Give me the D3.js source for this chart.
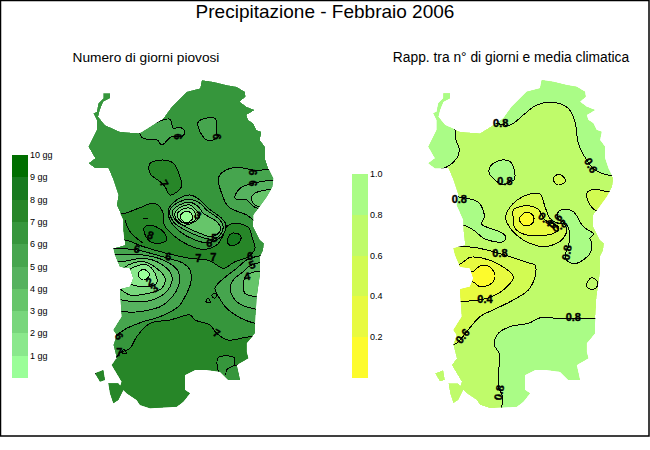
<!DOCTYPE html>
<html lang="en">
<head>
<meta charset="UTF-8">
<title>Precipitazione - Febbraio 2006</title>
<script src="https://d3js.org/d3.v7.min.js"></script>
<style>
    body { margin: 0; background: #fff; font-family: "Liberation Sans", Arial, sans-serif; }
    svg { display: block; }
    .fill, .band, .line { shape-rendering: crispEdges; }
    .line { fill: none; stroke: #000; stroke-width: 1; }
    .lab { font-weight: bold; font-size: 11px; text-anchor: middle; dominant-baseline: middle; stroke: #000; stroke-width: 0.4; }
</style>
</head>
<body>
<script>
// legends
const dayTicks = [1, 2, 3, 4, 5, 6, 7, 8, 9, 10];
const dayColors = ["#9afe98", "#8ae88c", "#78d67c", "#66c56a", "#56b25f", "#46a54e", "#36963c", "#278628", "#177a1f", "#006e00"];
const ratioTicks = [0.2, 0.4, 0.6, 0.8, 1.0];
const ratioColors = ["#fdfb2c", "#e8fa40", "#d2fb52", "#bffb6a", "#aafc86"];

// island outline, in map units
const coast = [[365,0],[400,5],[440,15],[470,20],[495,35],[497,50],[480,65],[500,80],[525,90],[500,105],[505,120],[520,130],[530,150],[545,155],[540,180],[555,200],[555,235],[565,265],[580,295],[577,320],[560,350],[535,385],[520,405],[520,440],[540,480],[552,490],[550,510],[540,530],[540,580],[530,650],[525,730],[525,760],[500,790],[500,815],[505,835],[470,855],[480,900],[445,900],[420,875],[380,870],[345,870],[315,885],[315,930],[330,940],[310,965],[290,980],[210,985],[180,975],[170,960],[140,940],[120,920],[125,905],[95,855],[110,835],[100,795],[110,765],[100,750],[125,710],[120,628],[150,620],[160,595],[150,565],[120,560],[105,525],[100,505],[135,495],[130,450],[130,420],[110,375],[115,345],[100,300],[85,265],[45,265],[25,250],[45,235],[25,200],[50,150],[50,120],[40,100],[50,95],[55,70],[70,55],[70,40],[90,40],[90,55],[70,65],[60,90],[55,110],[75,135],[120,155],[180,160],[235,125],[250,115],[275,80],[320,35],[360,25]];
const isleNorth = [[45,880],[70,870],[75,900],[60,905]];
const isleSouth = [[85,910],[115,910],[130,930],[115,960],[100,970],[90,940]];

// left map: [band, closed contour]
const dayContours = [
    [5, [[180,158],[235,125],[270,118],[280,145],[300,142],[315,155],[305,170],[275,170],[245,195],[232,180],[190,175]]],
    [5, [[355,125],[405,115],[410,160],[415,170],[385,182],[360,155]]],
    [7, [[210,250],[250,240],[280,250],[300,290],[305,320],[270,345],[255,320],[240,305],[210,280]]],
    [5, [[640,280],[520,270],[470,262],[430,275],[415,295],[425,340],[445,380],[500,405],[530,425],[640,425]]],
    [4, [[640,308],[510,312],[475,330],[465,355],[500,360],[525,382],[640,390]]],
    [3, [[640,335],[535,335],[515,350],[520,370],[545,382],[640,375]]],
    [7, [[60,415],[135,400],[175,385],[225,370],[250,400],[253,435],[285,470],[325,495],[370,508],[410,495],[430,465],[440,440],[465,430],[505,442],[517,475],[525,505],[505,530],[465,545],[430,565],[410,555],[395,545],[382,540],[330,535],[260,520],[190,500],[135,480],[60,480]]],
    [8, [[192,445],[210,435],[250,455],[260,480],[235,490],[205,480]]],
    [8, [[442,480],[455,460],[480,465],[482,480],[465,495],[448,495]]],
    [5, [[265,390],[290,360],[330,345],[360,360],[385,385],[425,415],[438,435],[432,460],[410,480],[382,488],[345,480],[300,455],[270,420]]],
    [4, [[270,390],[295,367],[330,358],[360,370],[380,390],[420,420],[430,440],[420,465],[400,478],[360,470],[315,450],[280,425]]],
    [3, [[277,395],[298,375],[330,367],[355,380],[370,400],[410,425],[422,445],[415,460],[395,470],[360,460],[320,442],[290,425]]],
    [2, [[285,398],[305,380],[330,375],[348,390],[360,408],[335,430],[310,435],[290,420]]],
    [1, [[292,402],[310,387],[332,385],[345,398],[345,420],[315,430],[298,420]]],
    [0, [[300,408],[315,395],[332,398],[338,415],[320,428],[305,420]]],
    [5, [[50,505],[105,505],[170,510],[230,525],[265,535],[310,550],[330,570],[332,610],[320,640],[295,680],[240,710],[190,725],[140,745],[108,765],[50,780]]],
    [4, [[100,525],[190,525],[260,545],[295,575],[295,620],[250,675],[180,695],[125,695],[80,690],[80,525]]],
    [3, [[125,545],[190,535],[240,550],[275,585],[270,620],[240,650],[190,665],[125,660],[90,650],[90,545]]],
    [2, [[145,555],[190,545],[230,565],[255,595],[245,625],[205,640],[150,645],[125,630],[100,600]]],
    [1, [[155,565],[200,555],[225,580],[230,610],[200,620],[160,615],[130,590]]],
    [0, [[175,580],[190,568],[207,580],[205,592],[190,600],[178,592]]],
    [5, [[640,535],[510,535],[470,565],[420,605],[405,625],[425,665],[445,690],[525,730],[640,730]]],
    [4, [[640,550],[515,555],[490,575],[460,600],[450,625],[470,665],[530,688],[640,688]]],
    [3, [[640,580],[500,585],[490,615],[495,640],[530,650],[640,650]]],
    [7, [[60,850],[95,850],[120,818],[150,805],[170,770],[210,730],[270,720],[330,705],[345,720],[390,735],[410,760],[445,780],[510,770],[640,770],[640,1040],[60,1040]]],
    [6, [[415,833],[463,833],[465,855],[500,850],[520,920],[440,920],[415,875]]]
];
const dayLines = [
    [[465,855],[440,870],[438,885]],
    [[377,667],[384,655],[391,667],[377,667]],
    [[395,647],[403,640],[411,647],[403,655],[395,647]],
    [[125,820],[132,808],[139,820],[125,820]],
    [[135,420],[150,455],[190,490]],
    [[188,415],[205,415]]
];
const dayLabels = [
    ["6",290,170,90],["6",407,170,90],["6",515,277,90],["6",515,310,90],["7",250,312,60],["3",352,408,30],
    ["8",210,468,20],["5",403,478,0],["6",388,492,0],["6",170,510,10],["6",265,532,10],["7",355,538,0],["7",400,535,0],
    ["6",510,532,0],["5",517,557,-20],["4",502,592,-10],["2",210,608,-30],["3",225,627,-40],["6",115,770,60],["7",118,818,0],["7",408,762,30]
];

// right map: [band, closed contour]
const ratioContours = [
    [4, [[225,130],[270,135],[310,105],[350,75],[405,68],[445,85],[465,125],[475,190],[500,240],[525,270],[575,287],[680,287],[680,-50],[120,-50],[120,130]]],
    [4, [[105,150],[108,180],[118,210],[110,235],[70,265],[0,265],[0,0],[105,0]]],
    [4, [[210,260],[240,241],[270,245],[283,270],[282,300],[270,305],[250,315],[225,300],[208,280]]],
    [4, [[0,358],[155,358],[180,372],[193,410],[185,432],[210,445],[245,458],[257,470],[250,485],[195,477],[160,450],[130,435],[0,435]]],
    [2, [[400,295],[415,283],[430,290],[435,305],[415,315],[402,305]]],
    [2, [[500,340],[520,328],[565,335],[620,335],[620,390],[525,390],[505,365]]],
    [2, [[258,405],[280,370],[330,342],[360,342],[375,380],[390,415],[415,430],[430,430],[440,450],[430,475],[410,490],[370,500],[310,480],[275,450],[258,420]]],
    [1, [[280,390],[300,380],[330,378],[355,388],[375,420],[415,440],[415,450],[395,462],[320,465],[285,445],[280,415]]],
    [0, [[298,418],[315,398],[335,402],[342,420],[330,435],[310,435]]],
    [4, [[415,395],[430,388],[460,395],[490,440],[520,462],[510,475],[515,490],[510,520],[470,550],[445,545],[435,525],[445,500],[447,450],[437,430],[415,418]]],
    [2, [[120,500],[160,502],[220,515],[330,550],[345,555],[345,590],[325,630],[280,660],[230,685],[180,710],[140,755],[105,792],[0,792],[0,500]]],
    [1, [[115,555],[150,532],[190,535],[240,555],[280,590],[250,630],[200,655],[120,665],[0,665],[0,555]]],
    [0, [[158,575],[180,558],[205,558],[225,585],[215,610],[180,620],[158,605],[100,600],[100,575]]],
    [4, [[525,715],[470,715],[410,715],[365,712],[325,730],[270,740],[235,760],[223,795],[237,820],[235,890],[235,920],[248,950],[248,1040],[700,1040],[700,715]]]
];
const ratioLines = [
    [[500,610],[515,593],[532,605],[530,622],[515,628],[500,620],[500,610]]
];
const ratioLabels = [
    ["0.8",242,132,0],["0.6",510,258,60],["0.8",255,305,0],["0.8",118,360,0],["0.8",240,522,0],["0.8",443,518,-80],
    ["0.6",130,770,-50],["0.4",195,660,0],["0.8",460,715,0],["0.8",240,938,-80],["0.4",375,420,40],["0.6",408,425,-50],["0.8",420,440,-30]
];

const svg = d3.select("body").append("svg").attr("width", 650).attr("height", 450);

svg.append("rect").attr("x", 0.5).attr("y", 0.5).attr("width", 648.5).attr("height", 435.5)
    .attr("fill", "#fff").attr("stroke", "#000").attr("stroke-width", 1.5);

svg.append("text").attr("x", 325).attr("y", 18).attr("text-anchor", "middle")
    .attr("font-size", 19).text("Precipitazione - Febbraio 2006");

svg.append("text").attr("x", 146).attr("y", 62).attr("text-anchor", "middle")
    .attr("font-size", 13.7).text("Numero di giorni piovosi");
svg.append("text").attr("x", 511).attr("y", 62).attr("text-anchor", "middle")
    .attr("font-size", 13.8).text("Rapp. tra n° di giorni e media climatica");

const y = d3.scaleLinear().domain([0, 1000]).range([80, 80 + 1000 / 3]);
const closed = d3.line().curve(d3.curveLinearClosed);

function drawMap(id, x0, baseColor, colors, contours, lines, labels) {
    const x = d3.scaleLinear().domain([0, 1000]).range([x0, x0 + 1000 / 3]);
    const toPx = p => p.map(d => [x(d[0]), y(d[1])]);
    const smooth = d3.line().curve(d3.curveCatmullRomClosed.alpha(0.5));
    const open = d3.line().curve(d3.curveCatmullRom.alpha(0.5));
    const land = [coast, isleNorth, isleSouth].map(p => closed(toPx(p))).join("");

    svg.append("clipPath").attr("id", id).append("path").attr("d", land);
    const g = svg.append("g").attr("clip-path", `url(#${id})`);
    g.append("path").attr("class", "fill").attr("d", land).attr("fill", baseColor);

    g.selectAll("path.band").data(contours).join("path")
        .attr("class", "band")
        .attr("d", d => smooth(toPx(d[1])))
        .attr("fill", d => colors[d[0]])
        .attr("stroke", "#000");

    g.selectAll("path.line").data(lines).join("path")
        .attr("class", "line")
        .attr("d", d => open(toPx(d)));

    svg.append("g").selectAll("text").data(labels).join("text")
        .attr("class", "lab")
        .attr("transform", d => `translate(${x(d[1])},${y(d[2])}) rotate(${d[3]})`)
        .text(d => d[0]);
}

drawMap("landDays", 80, dayColors[6], dayColors, dayContours, dayLines, dayLabels);
drawMap("landRatio", 420, ratioColors[3], ratioColors, ratioContours, ratioLines, ratioLabels);

function drawLegend(x0, yScale, ticks, colors, fmt) {
    const step = ticks[1] - ticks[0];
    const g = svg.append("g");
    g.selectAll("rect").data(ticks).join("rect")
        .attr("class", "fill")
        .attr("x", x0).attr("width", 16)
        .attr("y", d => yScale(d))
        .attr("height", d => yScale(d - step) - yScale(d))
        .attr("fill", (d, i) => colors[i]);
    g.selectAll("text").data(ticks).join("text")
        .attr("x", x0 + 18).attr("y", d => yScale(d) + 3)
        .attr("font-size", 9)
        .text(fmt);
}

drawLegend(12, d3.scaleLinear().domain([0, 10]).range([378, 155]), dayTicks, dayColors, d => d + " gg");
drawLegend(352, d3.scaleLinear().domain([0, 1]).range([378, 174]), ratioTicks, ratioColors, d => d3.format(".1f")(d));
</script>
</body>
</html>
